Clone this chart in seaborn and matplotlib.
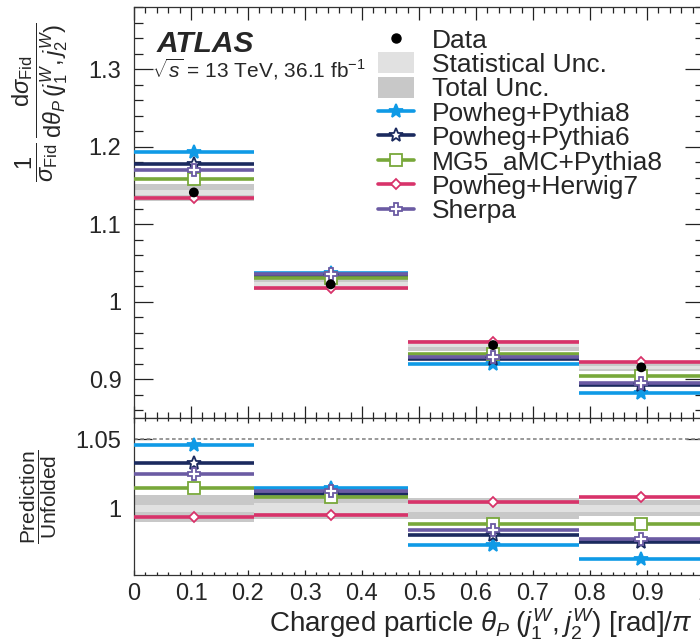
import numpy as np
import pandas as pd
import matplotlib
matplotlib.use("Agg")
import matplotlib.pyplot as plt
from matplotlib.lines import Line2D
from matplotlib.patches import Patch
from matplotlib.ticker import MultipleLocator, FixedLocator, FuncFormatter
import seaborn as sns

# ---------------- data ----------------
bin_edges = [0.0, 0.21, 0.48, 0.78, 1.0]
bin_centers = [0.105, 0.345, 0.63, 0.89]
data_vals = [1.141, 1.0224, 0.944, 0.9153]
stat_rel = [0.0025, 0.0035, 0.0030, 0.0025]
total_rel = [0.0097, 0.0075, 0.0075, 0.0057]

model_names = ["Powheg+Pythia8", "Powheg+Pythia6", "MG5_aMC+Pythia8",
               "Powheg+Herwig7", "Sherpa"]
pp8 = [1.1928, 1.0372, 0.9190, 0.8817]
pp6 = [1.1779, 1.0330, 0.9258, 0.8929]
mg5 = [1.1580, 1.0306, 0.9330, 0.9047]
ph7 = [1.1336, 1.0174, 0.9480, 0.9226]
sherpa = [1.1694, 1.0352, 0.9290, 0.8947]
model_vals = [pp8, pp6, mg5, ph7, sherpa]

x_ticks = [0, 0.1, 0.2, 0.3, 0.4, 0.5, 0.6, 0.7, 0.8, 0.9, 1]
y_ticks_top = [0.9, 1.0, 1.1, 1.2, 1.3]
y_ticks_bot = [1.0, 1.05]

# ---------------- styles ----------------
colors = ["#0f9ae6", "#1b2a5e", "#78a83a", "#d8336a", "#6b5ba3"]
markers = ["*", "*", "s", "D", "P"]
msizes = [10.5, 10.5, 8.5, 5.5, 9]
filled = [True, False, False, False, False]
STAT_C = "#e1e1e1"
TOT_C = "#c8c8c8"

sns.set_theme(style="ticks")
plt.rcParams["font.family"] = ["Liberation Sans", "DejaVu Sans"]
plt.rcParams["mathtext.fontset"] = "custom"
plt.rcParams["mathtext.rm"] = "Liberation Sans"
plt.rcParams["mathtext.it"] = "Liberation Sans:italic"
plt.rcParams["mathtext.bf"] = "Liberation Sans:bold"
plt.rcParams["axes.edgecolor"] = "#333333"

W, H = 700, 642
fig = plt.figure(figsize=(W / 100, H / 100), dpi=100)
L = 134 / W
AW = 570 / W
ax = fig.add_axes([L, 1 - 417.7 / H, AW, (417.7 - 7) / H])
rx = fig.add_axes([L, 1 - 575 / H, AW, (575 - 417.7) / H])

lo = np.array(bin_edges[:-1])
hi = np.array(bin_edges[1:])
widths = hi - lo
d = np.array(data_vals)
st = np.array(stat_rel)
tt = np.array(total_rel)

# uncertainty bands
ax.bar(lo, 2 * tt * d, bottom=d * (1 - tt), width=widths, align="edge",
       color=TOT_C, linewidth=0, zorder=1)
ax.bar(lo, 2 * st * d, bottom=d * (1 - st), width=widths, align="edge",
       color=STAT_C, linewidth=0, zorder=1.1)
rx.bar(lo, 2 * tt, bottom=1 - tt, width=widths, align="edge",
       color=TOT_C, linewidth=0, zorder=1)
rx.bar(lo, 2 * st, bottom=1 - st, width=widths, align="edge",
       color=STAT_C, linewidth=0, zorder=1.1)


def seg_frame(vals):
    rows = []
    for i, v in enumerate(vals):
        rows.append({"x": bin_edges[i], "y": v, "bin": i})
        rows.append({"x": bin_edges[i + 1], "y": v, "bin": i})
    return pd.DataFrame(rows)


draw_order = [3, 2, 4, 1, 0]
for k in draw_order:
    vals = np.array(model_vals[k])
    c = colors[k]
    ratio = vals / d
    for a, yv in ((ax, vals), (rx, ratio)):
        sns.lineplot(data=seg_frame(yv), x="x", y="y", units="bin",
                     estimator=None, color=c, lw=2.6, ax=a, zorder=3 + k * 0.01,
                     legend=False, solid_capstyle="butt")
        a.plot(bin_centers, yv, ls="none", marker=markers[k], ms=msizes[k],
               mfc=c if filled[k] else "white", mec=c, mew=1.3,
               zorder=4 + k * 0.01)

# data points
sns.scatterplot(x=bin_centers, y=data_vals, color="black", s=50,
                edgecolor="none", ax=ax, zorder=6)

rx.axhline(1.05, color="#888888", lw=1.2, ls=(0, (2.2, 1.6)), zorder=2)

# axes setup
ax.set_xlim(0, 1)
rx.set_xlim(0, 1)
ax.set_ylim(0.8503, 1.3803)
rx.set_ylim(0.9517, 1.0654)

fmt = FuncFormatter(lambda v, p: f"{v:g}")
for a in (ax, rx):
    a.xaxis.set_major_locator(FixedLocator(x_ticks))
    a.xaxis.set_minor_locator(MultipleLocator(0.02))
    a.tick_params(which="both", direction="in", top=True, right=True,
                  width=0.9, color="#222222", labelsize=17, pad=9)
    for s in a.spines.values():
        s.set_linewidth(0.9)
    a.set_xlabel("")
    a.set_ylabel("")
    a.xaxis.set_major_formatter(fmt)
    a.yaxis.set_major_formatter(fmt)

ax.yaxis.set_major_locator(FixedLocator(y_ticks_top))
ax.yaxis.set_minor_locator(MultipleLocator(0.02))
ax.tick_params(axis="y", which="major", length=13.5)
ax.tick_params(axis="y", which="minor", length=6.5)
ax.tick_params(axis="x", which="major", length=9)
ax.tick_params(axis="x", which="minor", length=4.5)
ax.tick_params(axis="x", labelbottom=False)

rx.yaxis.set_major_locator(FixedLocator(y_ticks_bot))
rx.tick_params(axis="y", which="major", length=13)
rx.tick_params(axis="x", which="major", length=3.5)
rx.tick_params(axis="x", which="minor", length=2)
rx.tick_params(axis="x", pad=6)

# labels
fig.text(40 / W, 1 - 22 / H,
         r"$\dfrac{1}{\sigma_{\mathrm{Fid}}}\,\dfrac{\mathrm{d}\sigma_{\mathrm{Fid}}}"
         r"{\mathrm{d}\theta_{P}\,(j_1^W, j_2^W)}$",
         fontsize=17, rotation=90, ha="center", va="top")
fig.text(39 / W, 1 - 497 / H,
         r"$\dfrac{\mathrm{Prediction}}{\mathrm{Unfolded}}$",
         fontsize=15, rotation=90, ha="center", va="center")
fig.text(693 / W, 1 - 632 / H,
         r"Charged particle $\theta_P\;(j_1^W, j_2^W)$ [rad]$/\pi$",
         fontsize=20, ha="right", va="baseline")

ax.text(0.04, 0.89, "ATLAS", transform=ax.transAxes, fontsize=21.5,
        fontweight="bold", fontstyle="italic", va="baseline")
ax.text(0.032, 0.828, r"$\sqrt{s}$ = 13 TeV, 36.1 fb$^{-1}$",
        transform=ax.transAxes, fontsize=15, va="baseline")

# legend
handles = [Line2D([], [], ls="none", marker="o", ms=6.5, color="black"),
           Patch(facecolor=STAT_C, edgecolor="none"),
           Patch(facecolor=TOT_C, edgecolor="none")]
for k in range(5):
    handles.append(Line2D([], [], color=colors[k], lw=2.6, marker=markers[k],
                          ms=msizes[k], mfc=colors[k] if filled[k] else "white",
                          mec=colors[k], mew=1.3))
labels = ["Data", "Statistical Unc.", "Total Unc."] + model_names
fig.legend(handles, labels, loc="upper left",
           bbox_to_anchor=(378 / W, 1 - 28 / H), frameon=False, fontsize=19,
           handlelength=1.35, handleheight=0.85, handletextpad=0.7,
           labelspacing=-0.01, borderpad=0, borderaxespad=0)

fig.savefig("out.png", dpi=100)
